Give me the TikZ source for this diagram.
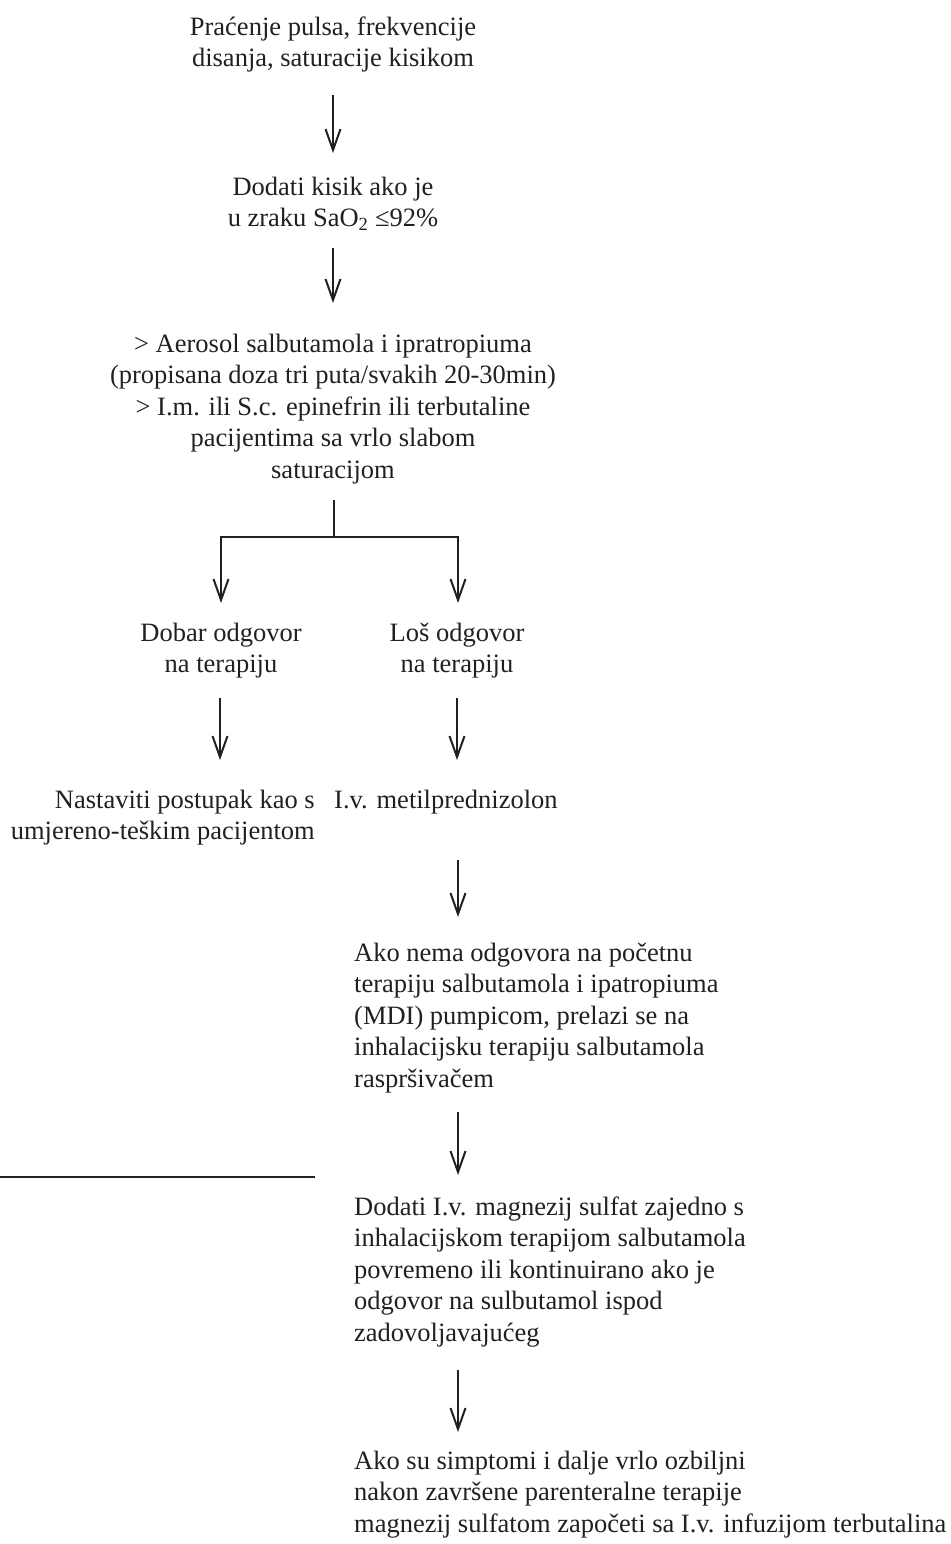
\documentclass[tikz,border=0pt]{standalone}
\usepackage{fontspec}
\setmainfont{Liberation Serif}
\usetikzlibrary{arrows.meta}
\definecolor{ink}{HTML}{231F20}
\newcommand\tstrut{\rule{0pt}{21pt}}
\begin{document}
\begin{tikzpicture}[x=1pt,y=-1pt,
  txt/.style={inner sep=0pt, text=ink, font=\fontsize{26.5}{31.5}\selectfont},
  arr/.style={draw=ink, line width=2pt, -{Straight Barb[length=21pt,width=15pt]}},
  plain/.style={draw=ink, line width=2pt}]
\useasboundingbox (0,0) rectangle (950,1544);

\node[txt, anchor=north, align=center] (A) at (333,14)
  {\tstrut Praćenje pulsa, frekvencije\\disanja, saturacije kisikom};
\node[txt, anchor=north, align=center] (B) at (333,174)
  {\tstrut Dodati kisik ako je\\u zraku SaO\textsubscript{2} ≤92\%};
\node[txt, anchor=north, align=center] (C) at (333,331)
  {\tstrut > Aerosol salbutamola i ipratropiuma\\(propisana doza tri puta/svakih 20-30min)\\> I.m. ili S.c. epinefrin ili terbutaline\\pacijentima sa vrlo slabom\\saturacijom};
\node[txt, anchor=north, align=center] (D) at (221,620)
  {\tstrut Dobar odgovor\\na terapiju};
\node[txt, anchor=north, align=center] (E) at (457,620)
  {\tstrut Loš odgovor\\na terapiju};
\node[txt, anchor=north east, align=right] (F) at (315,787)
  {\tstrut Nastaviti postupak kao s\\umjereno-teškim pacijentom};
\node[txt, anchor=north west, align=left] (G) at (334,787)
  {\tstrut I.v. metilprednizolon};
\node[txt, anchor=north west, align=left] (H) at (354,940)
  {\tstrut Ako nema odgovora na početnu\\terapiju salbutamola i ipatropiuma\\(MDI) pumpicom, prelazi se na\\inhalacijsku terapiju salbutamola\\raspršivačem};
\node[txt, anchor=north west, align=left] (I) at (354,1194)
  {\tstrut Dodati I.v. magnezij sulfat zajedno s\\inhalacijskom terapijom salbutamola\\povremeno ili kontinuirano ako je\\odgovor na sulbutamol ispod\\zadovoljavajućeg};
\node[txt, anchor=north west, align=left] (J) at (354,1448)
  {\tstrut Ako su simptomi i dalje vrlo ozbiljni\\nakon završene parenteralne terapije\\magnezij sulfatom započeti sa I.v. infuzijom terbutalina};

% arrows
\coordinate (a1s) at (333,95);   \coordinate (a1e) at (333,153);
\coordinate (a2s) at (333,248);  \coordinate (a2e) at (333,303);
\coordinate (fs) at (334,500);   \coordinate (fm) at (334,537);
\coordinate (fl) at (221,603);   \coordinate (fr) at (458,603);
\coordinate (a4ls) at (220,698); \coordinate (a4le) at (220,760);
\coordinate (a4rs) at (457,698); \coordinate (a4re) at (457,760);
\coordinate (a5s) at (458,860);  \coordinate (a5e) at (458,917);
\coordinate (a6s) at (458,1112); \coordinate (a6e) at (458,1175);
\coordinate (a7s) at (458,1370); \coordinate (a7e) at (458,1432);
\coordinate (ls) at (0,1177);    \coordinate (le) at (315,1177);

\draw[arr] (a1s) -- (a1e);
\draw[arr] (a2s) -- (a2e);
\draw[plain] (fs) -- (fm);
\draw[arr] (fm) -| (fl);
\draw[arr] (fm) -| (fr);
\draw[arr] (a4ls) -- (a4le);
\draw[arr] (a4rs) -- (a4re);
\draw[arr] (a5s) -- (a5e);
\draw[arr] (a6s) -- (a6e);
\draw[arr] (a7s) -- (a7e);
\draw[plain] (ls) -- (le);
\end{tikzpicture}
\end{document}
